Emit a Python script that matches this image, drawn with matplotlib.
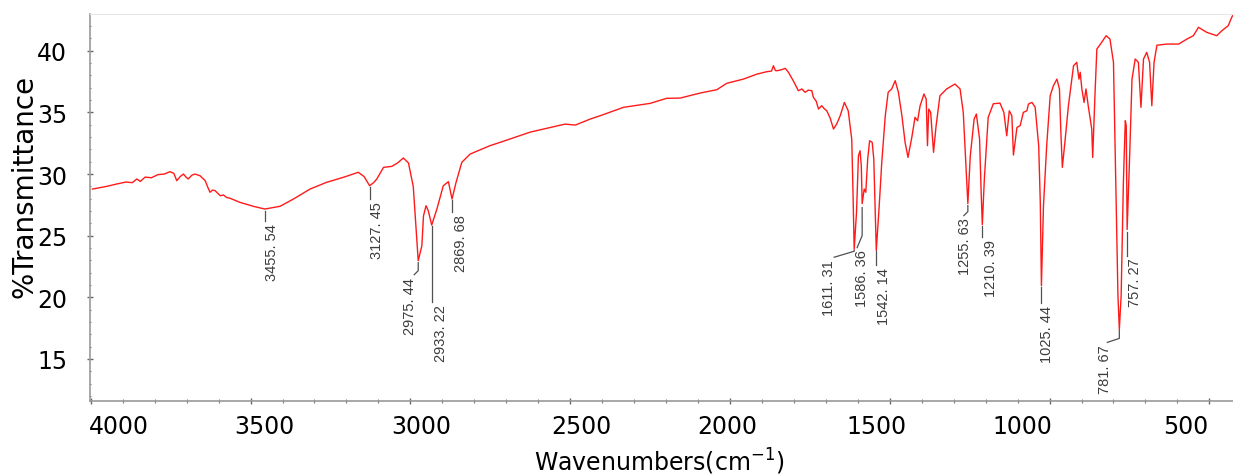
import matplotlib.pyplot as plt
import numpy as np
from matplotlib.transforms import ScaledTranslation

# FTIR spectrum, digitised (wavenumber in cm-1, %T)
wavenumber = np.array([
    3995, 3950, 3919, 3890, 3870, 3856, 3845, 3830, 3810, 3790, 3770, 3752,
    3740, 3731, 3720, 3710, 3702, 3695, 3684, 3674, 3658, 3642, 3635, 3627,
    3619, 3611, 3603, 3595, 3585, 3575, 3564, 3533, 3491, 3455.54, 3408, 3366,
    3314, 3262, 3210, 3163, 3145, 3127.45, 3115, 3105, 3084, 3058, 3040, 3022,
    3006, 2991, 2980, 2975.44, 2964, 2959, 2951, 2944, 2933.22, 2917, 2897,
    2881, 2869.68, 2857, 2839, 2813, 2751, 2719, 2625, 2516, 2484, 2437, 2406,
    2333, 2250, 2198, 2156, 2093, 2041, 2010, 1958, 1916, 1885, 1870, 1864,
    1858, 1853, 1840, 1827, 1817, 1802, 1786, 1775, 1765, 1755, 1744, 1739,
    1730, 1723, 1713, 1705, 1697, 1686, 1676, 1666, 1655, 1642, 1630, 1619,
    1615, 1611.31, 1604, 1598, 1593, 1589, 1586.36, 1580, 1575, 1569, 1563,
    1555, 1550, 1546, 1542.14, 1533, 1525, 1514, 1505, 1494, 1483, 1473, 1462,
    1452, 1443, 1431, 1421, 1413, 1405, 1393, 1386, 1382, 1378, 1372, 1363,
    1355, 1343, 1322, 1296, 1280, 1270, 1262, 1255.63, 1248, 1236, 1229, 1219,
    1214, 1210.39, 1204, 1192, 1176, 1155, 1143, 1134, 1126, 1118, 1113, 1102,
    1092, 1082, 1071, 1066, 1055, 1045, 1034, 1029, 1025.44, 1019, 1009, 998,
    988, 977, 969, 965, 960, 951, 941, 925, 915, 908, 904, 899, 892, 886, 879,
    868, 865, 858, 852, 837, 823, 811, 800, 792, 786, 781.67, 776, 769, 763,
    760, 757.27, 750, 742, 732, 722, 714, 706, 696, 687, 680, 673, 664, 633,
    596, 570, 550, 534, 508, 477, 461, 441, 430, 426,
])
transmittance = np.array([
    28.78, 29.0, 29.19, 29.35, 29.3, 29.6, 29.4, 29.75, 29.7, 29.95, 30.0, 30.19,
    30.05, 29.46, 29.8, 30.0, 29.75, 29.6, 29.9, 30.0, 29.86, 29.46, 29.0, 28.52,
    28.7, 28.65, 28.45, 28.24, 28.3, 28.1, 28.03, 27.7, 27.38, 27.16, 27.38, 27.97,
    28.78, 29.33, 29.73, 30.14, 29.8, 29.05, 29.3, 29.6, 30.54, 30.62, 30.9, 31.3,
    30.9, 29.0, 24.73, 22.97, 24.19, 26.6, 27.43, 27.02, 25.86, 27.16, 29.05,
    29.38, 27.97, 29.33, 30.95, 31.62, 32.3, 32.57, 33.4, 34.05, 33.97, 34.46, 34.73,
    35.41, 35.73, 36.14, 36.16, 36.57, 36.84, 37.36, 37.7, 38.1, 38.3, 38.35, 38.78,
    38.4, 38.38, 38.45, 38.57, 38.25, 37.57, 36.76, 36.9, 36.63, 36.8, 36.76, 36.22,
    35.9, 35.27, 35.54, 35.3, 35.13, 34.5, 33.65, 34.06, 34.73, 35.81, 35.13, 32.84,
    28.5, 23.9, 26.9, 31.48, 31.89, 30.67, 27.6, 28.78, 28.52, 31.22, 32.7,
    32.57, 31.22, 27.5, 23.8, 27.43, 30.95, 34.73, 36.63, 36.9, 37.57, 36.63, 34.73,
    32.57, 31.35, 32.97, 34.6, 34.32, 35.54, 36.49, 36.08, 32.3, 35.27, 35.0, 31.76,
    33.92, 36.35, 36.9, 37.3, 36.9, 35.0, 30.95, 27.6, 31.48, 34.46, 34.87, 32.84,
    28.5, 25.9, 29.6, 34.6, 35.7, 35.75, 35.0, 33.1, 35.13, 34.73, 31.54, 33.78,
    33.92, 35.0, 35.13, 35.68, 35.81, 35.41, 32.3, 27.71, 20.94, 27.43, 32.3, 36.35,
    37.16, 37.7, 36.9, 33.65, 30.54, 32.84, 35.54, 38.78, 39.06, 37.7, 38.25, 36.9,
    35.81, 36.9, 35.54, 33.65, 31.35, 36.35, 40.14, 40.68, 41.22, 40.95, 39.06,
    28.24, 20.13, 17.4, 20.13, 29.33, 34.32, 33.92, 25.5, 30.95, 37.7, 39.33, 39.06,
    35.41, 39.33, 39.87, 39.06, 35.54, 39.06, 40.45, 40.54, 40.54, 40.95, 41.22,
    41.9, 41.49, 41.22, 41.62, 42.03, 42.71, 42.9,
])

# labelled absorption bands
peaks = [3455.54, 3127.45, 2975.44, 2933.22, 2869.68, 1611.31, 1586.36,
         1542.14, 1255.63, 1210.39, 1025.44, 781.67, 757.27]
# leader geometry in pixels relative to the band minimum:
# (gap, kink depth, end dx, end depth, text dx)
leaders = [(2, 12, 0, 12, 7), (1, 13, 0, 13, 7), (2, 10, -4, 14, -8),
           (1, 77, 0, 77, 9), (1, 13, 0, 13, 9), (1, 2, -20, 8, -25),
           (4, 32, -5, 44, 0), (1, 15, 0, 15, 8), (2, 8, -4, 12, -3),
           (1, 12, 0, 12, 9), (1, 17, 0, 17, 6), (1, 9, -12, 13, -14),
           (2, 26, 0, 26, 8)]

xticks = [4000, 3500, 3000, 2500, 2000, 1500, 1000, 500]
xtick_shift = [28, 14, 11, 11, -3, -13, -27, -24]
yticks = [15, 20, 25, 30, 35, 40]

fig = plt.figure(figsize=(12.33, 4.77), dpi=100)
ax = fig.add_axes([89.5 / 1233, 75 / 477, 1 - 89.5 / 1233, 387 / 477])

ax.plot(wavenumber, transmittance, color='#ff1a1a', lw=1.0)
ax.set_xlim(4004, 426)
ax.set_ylim(11.59, 42.98)

ax.set_xticks(xticks)
ax.set_xticks(np.arange(500, 4001, 100), minor=True)
ax.set_yticks(yticks)
ax.set_yticks(np.arange(12, 43, 1), minor=True)
ax.tick_params(axis='x', which='major', direction='inout', length=5, width=1,
               color='#666666', labelsize=17, pad=7)
ax.tick_params(axis='x', which='minor', direction='inout', length=3, width=0.8,
               color='#777777')
ax.tick_params(axis='y', which='major', direction='inout', length=4, width=1,
               color='#666666', labelsize=17, pad=14)
ax.tick_params(axis='y', which='minor', direction='inout', length=2, width=0.8,
               color='#777777')

for lbl, dx in zip(ax.get_xticklabels(), xtick_shift):
    lbl.set_transform(lbl.get_transform() + ScaledTranslation(dx / 100, 0, fig.dpi_scale_trans))

for side in ['left', 'bottom']:
    ax.spines[side].set_color('#9a9a9a')
    ax.spines[side].set_linewidth(1.2)
ax.spines['top'].set_color('#e6e6e6')
ax.spines['top'].set_linewidth(0.8)
ax.spines['right'].set_visible(False)

ax.set_ylabel('%Transmittance', fontsize=20)
ax.yaxis.set_label_coords(-0.057, 0.558)
ax.yaxis.label.set_va('center')
ax.set_xlabel('Wavenumbers(cm$^{-1}$)', fontsize=17)
ax.xaxis.set_label_coords(0.498, -0.155)
ax.xaxis.label.set_va('center')

# peak labels with leader lines, laid out in pixel offsets
to_data = ax.transData.inverted()
for wn, (gap, kink, ex, ey, tx) in zip(peaks, leaders):
    t = np.interp(wn, wavenumber[::-1], transmittance[::-1])
    px, py = ax.transData.transform((wn, t))
    pts = to_data.transform([(px, py - gap), (px, py - kink), (px + ex, py - ey)])
    ax.plot(pts[:, 0], pts[:, 1], color='#505050', lw=0.9)
    tpos = to_data.transform((px + tx, py - ey - 2))
    ax.text(tpos[0], tpos[1], f'{wn:.2f}'.replace('.', '. '), rotation=90,
            ha='center', va='top', fontsize=10.5, color='#3c3c3c',
            family='Liberation Sans')

fig.savefig('out.png', dpi=100)
